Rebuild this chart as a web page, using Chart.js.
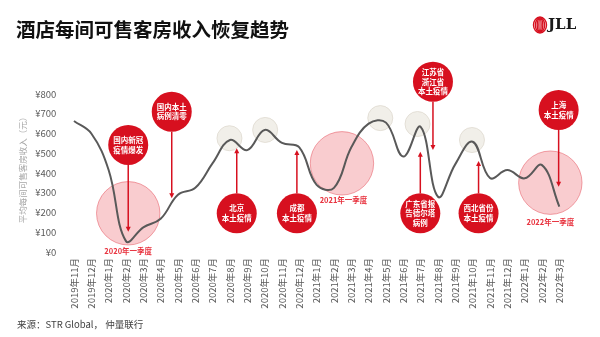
<!DOCTYPE html>
<html><head><meta charset="utf-8">
<script src="https://cdn.jsdelivr.net/npm/chart.js@4"></script>
<style>html,body{margin:0;padding:0;background:#fff}#wrap{width:600px;height:337px}</style>
</head><body><div id="wrap"><canvas id="c" width="600" height="337"></canvas></div>
<script>
const months = ["2019年11月","2019年12月","2020年1月","2020年2月","2020年3月","2020年4月","2020年5月","2020年6月","2020年7月","2020年8月","2020年9月","2020年10月","2020年11月","2020年12月","2021年1月","2021年2月","2021年3月","2021年4月","2021年5月","2021年6月","2021年7月","2021年8月","2021年9月","2021年10月","2021年11月","2021年12月","2022年1月","2022年2月","2022年3月"];
const revpar = [663,600,415,55,125,168,290,325,450,567,516,618,552,530,340,325,530,650,655,483,634,280,445,558,375,415,373,440,230];
const yTicks = [0,100,200,300,400,500,600,700,800];
const titleText = "酒店每间可售客房收入恢复趋势";
const yTitle = "平均每间可售客房收入（元）";
const sourceText = "来源：STR Global， 仲量联行";

// event annotations: x = month index, y = value space
const events = [
  {lines:["国内新冠","疫情爆发"], x:3.13, y:542, tip:103},
  {lines:["国内本土","病例清零"], x:5.64, y:710, tip:272},
  {lines:["北京","本土疫情"], x:9.39, y:196, tip:525},
  {lines:["成都","本土疫情"], x:12.86, y:196, tip:516},
  {lines:["江苏省","浙江省","本土疫情"], x:20.71, y:862, tip:516},
  {lines:["广东省报","告德尔塔","病例"], x:19.98, y:196, tip:508},
  {lines:["西北省份","本土疫情"], x:23.34, y:196, tip:461},
  {lines:["上海","本土疫情"], x:27.96, y:719, tip:331}
];
const quarters = [
  {label:"2020年一季度", x:3.13, y:196, ly:2},
  {label:"2021年一季度", x:15.46, y:449, ly:263, lx:15.55},
  {label:"2022年一季度", x:27.48, y:351, ly:153}
];
const peaks = [[8.97,576],[11.03,618],[17.67,678],[19.82,648],[22.96,567]];

const RED = "#d7101f";
const CJK = '"Noto Sans CJK SC", "Noto Sans", sans-serif';

const annoPlugin = {
  id:'anno',
  beforeDatasetsDraw(chart){
    const ctx = chart.ctx, xs = chart.scales.x, ys = chart.scales.y;
    ctx.save();
    peaks.forEach(p=>{
      ctx.beginPath();
      ctx.arc(xs.getPixelForValue(p[0]), ys.getPixelForValue(p[1]), 12.5, 0, Math.PI*2);
      ctx.fillStyle = "rgba(236,233,226,0.75)";
      ctx.fill();
      ctx.strokeStyle = "rgba(222,218,208,0.8)";
      ctx.lineWidth = 1;
      ctx.stroke();
    });
    quarters.forEach(q=>{
      const cx = xs.getPixelForValue(q.x), cy = ys.getPixelForValue(q.y);
      ctx.beginPath();
      ctx.arc(cx, cy, 31.7, 0, Math.PI*2);
      ctx.fillStyle = "rgba(240,120,130,0.38)";
      ctx.fill();
      ctx.strokeStyle = "rgba(230,90,100,0.55)";
      ctx.lineWidth = 1;
      ctx.stroke();
    });
    ctx.restore();
  },
  afterDatasetsDraw(chart){
    const ctx = chart.ctx, xs = chart.scales.x, ys = chart.scales.y;
    ctx.save();
    quarters.forEach(q=>{
      ctx.font = 'bold 7.5px ' + CJK;
      ctx.fillStyle = "#e8323e";
      ctx.textAlign = "center"; ctx.textBaseline = "middle";
      ctx.fillText(q.label, xs.getPixelForValue(q.lx!==undefined?q.lx:q.x), ys.getPixelForValue(q.ly));
    });
    const R = 20;
    events.forEach(e=>{
      const cx = xs.getPixelForValue(e.x), cy = ys.getPixelForValue(e.y), ty = ys.getPixelForValue(e.tip);
      const dir = ty > cy ? 1 : -1;
      ctx.strokeStyle = RED; ctx.fillStyle = RED; ctx.lineWidth = 1.5;
      ctx.beginPath();
      ctx.moveTo(cx, cy + dir*R);
      ctx.lineTo(cx, ty - dir*3);
      ctx.stroke();
      ctx.beginPath();
      ctx.moveTo(cx, ty);
      ctx.lineTo(cx-2.5, ty - dir*5);
      ctx.lineTo(cx+2.5, ty - dir*5);
      ctx.closePath(); ctx.fill();
      ctx.beginPath();
      ctx.arc(cx, cy, R, 0, Math.PI*2);
      ctx.fill();
      ctx.fillStyle = "#fff";
      ctx.font = 'bold 7.5px ' + CJK;
      ctx.textAlign = "center"; ctx.textBaseline = "middle";
      const lh = 9.5, n = e.lines.length;
      e.lines.forEach((t,i)=>ctx.fillText(t, cx, cy + (i-(n-1)/2)*lh));
    });
    ctx.restore();
  },
  afterDraw(chart){
    const ctx = chart.ctx;
    ctx.save();
    ctx.fillStyle = "#111";
    ctx.font = 'bold 19.5px ' + CJK;
    ctx.textAlign = "left"; ctx.textBaseline = "middle";
    ctx.fillText(titleText, 16, 29.5);
    ctx.fillStyle = "#404040";
    ctx.font = '9.5px ' + CJK;
    ctx.fillText(sourceText, 17, 324);
    ctx.save();
    ctx.translate(22.5, 168);
    ctx.rotate(-Math.PI/2);
    ctx.textAlign = "center";
    ctx.fillStyle = "#a6a6a6";
    ctx.font = '8.5px ' + CJK;
    ctx.fillText(yTitle, 0, 0);
    ctx.restore();
    ctx.strokeStyle = RED; ctx.lineWidth = 1.4;
    const lx = 540, ly = 25;
    [[6.5,8],[4.6,7.2],[2.8,6.4],[1.1,5.8]].forEach(r=>{
      ctx.beginPath(); ctx.ellipse(lx, ly, r[0], r[1], 0, 0, Math.PI*2); ctx.stroke();
    });
    ctx.fillStyle = "#1a1a1a";
    ctx.font = 'bold 15px "DejaVu Serif", "Liberation Serif", serif';
    ctx.textAlign = "left"; ctx.textBaseline = "middle";
    ctx.fillText("JLL", 548, 25.5);
    ctx.restore();
  }
};

new Chart(document.getElementById('c'), {
  type:'line',
  data:{labels:months, datasets:[{data:revpar, borderColor:"#595959", borderWidth:2, pointRadius:0, tension:0.4, fill:false}]},
  options:{
    responsive:false, animation:false,
    layout:{padding:{left:12, right:32, top:94, bottom:25}},
    plugins:{legend:{display:false}, tooltip:{enabled:false}, title:{display:false}},
    scales:{
      x:{offset:true, grid:{display:false, drawTicks:false}, border:{display:false},
         ticks:{autoSkip:false, maxRotation:90, minRotation:90, padding:6, color:"#595959", font:{size:9.5, family:CJK}},
         afterFit(s){ s.height = 60; }},
      y:{min:0, max:800, grid:{display:false, drawTicks:false}, border:{display:false},
         afterBuildTicks(s){ s.ticks = yTicks.map(v=>({value:v})); },
         ticks:{padding:9, color:"#595959", font:{size:9.5, family:CJK}, callback:v=>"¥"+v},
         afterFit(s){ s.width = 53.3; }}
    }
  },
  plugins:[annoPlugin]
});
</script></body></html>
